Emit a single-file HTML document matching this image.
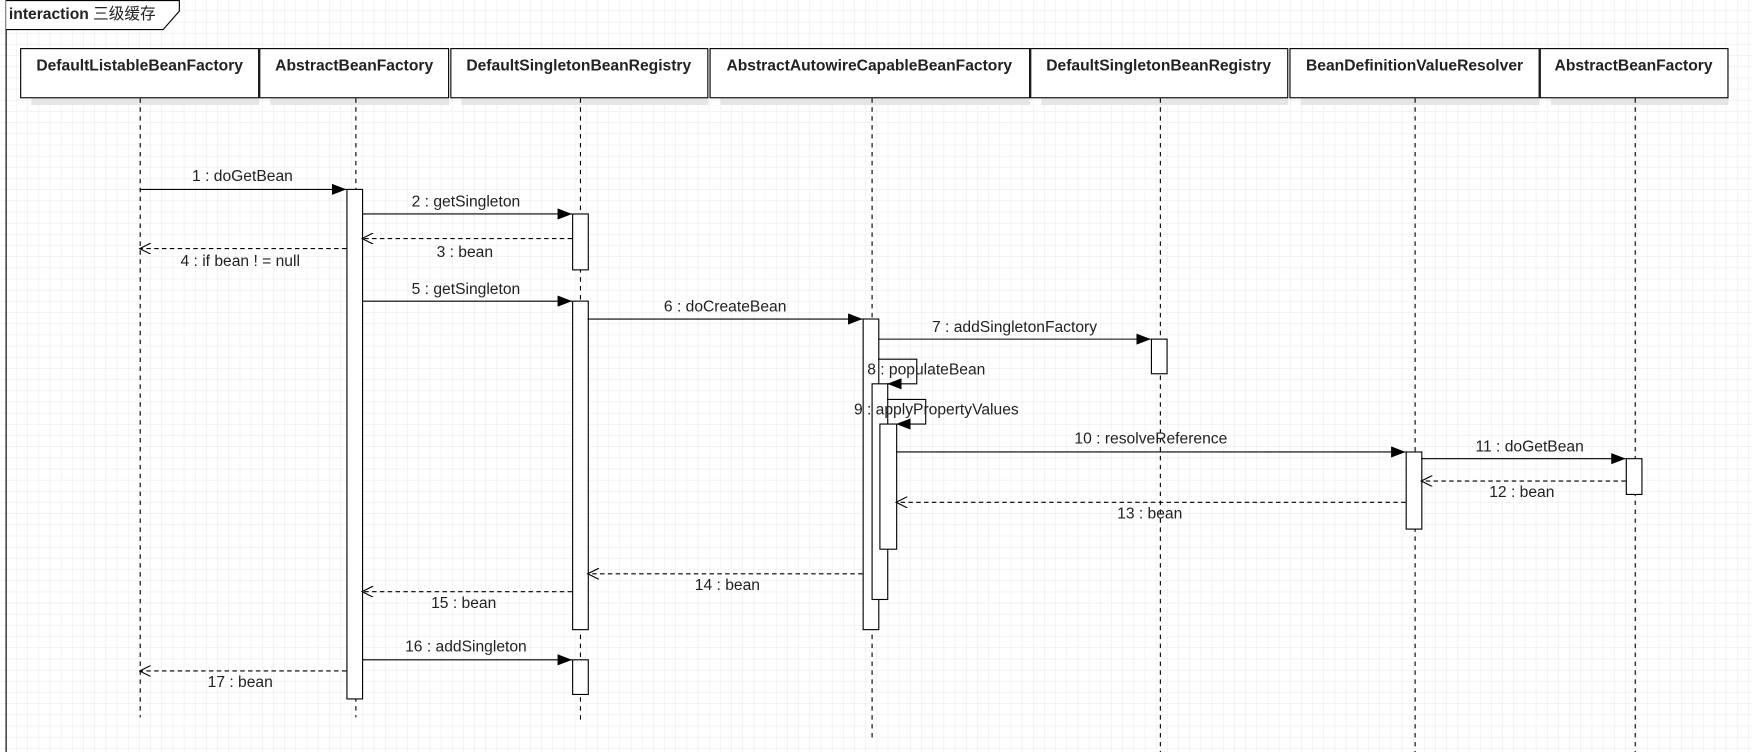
<!DOCTYPE html>
<html><head><meta charset="utf-8"><style>
html,body{margin:0;padding:0;background:#fff;}
svg{display:block;}
text{font-family:"Liberation Sans","Noto Sans CJK SC",sans-serif;font-size:14px;fill:#222;}
.h{font-weight:bold;}
</style></head><body>
<svg width="1752" height="752" viewBox="0 0 1568 673" preserveAspectRatio="none" xmlns="http://www.w3.org/2000/svg">
<defs>
<pattern id="g" width="10" height="10" patternUnits="userSpaceOnUse" x="5" y="0">
<path d="M10 0V10M0 10H10" stroke="#ebebeb" stroke-width="1" fill="none"/>
</pattern>
<marker id="f" markerWidth="14" markerHeight="10" refX="13" refY="5" orient="auto" markerUnits="userSpaceOnUse"><path d="M0 0L13 5L0 10Z" fill="#000"/></marker>
<marker id="o" markerWidth="12" markerHeight="10" refX="11" refY="5" orient="auto" markerUnits="userSpaceOnUse"><path d="M1 0L11 5L1 10" fill="none" stroke="#000"/></marker>
</defs>
<rect width="1568" height="673" fill="url(#g)"/>
<!-- frame -->
<line x1="5.5" y1="0" x2="5.5" y2="673" stroke="#000"/>
<path d="M5.5 0.5H160.5V10L146 26.5H5.5" fill="#fff" stroke="#000"/>
<text x="8" y="17"><tspan font-weight="bold">interaction</tspan> 三级缓存</text>
<!-- shadows -->
<g fill="#e6e6e6">
<rect x="28" y="88" width="204" height="6"/><rect x="242" y="88" width="160" height="6"/>
<rect x="413" y="88" width="221" height="6"/><rect x="645" y="88" width="277" height="6"/>
<rect x="932" y="88" width="221" height="6"/><rect x="1164" y="88" width="214" height="6"/>
<rect x="1388" y="88" width="159" height="6"/>
</g>
<!-- lifelines -->
<g stroke="#000" stroke-dasharray="4,4">
<line x1="125.5" y1="88" x2="125.5" y2="642"/>
<line x1="318.5" y1="88" x2="318.5" y2="642"/>
<line x1="519.5" y1="88" x2="519.5" y2="648"/>
<line x1="780.5" y1="88" x2="780.5" y2="661"/>
<line x1="1038.5" y1="88" x2="1038.5" y2="673"/>
<line x1="1266.5" y1="88" x2="1266.5" y2="673"/>
<line x1="1463.5" y1="88" x2="1463.5" y2="673"/>
</g>
<!-- headers -->
<g fill="#fff" stroke="#000">
<rect x="18.5" y="43.5" width="213" height="44"/><rect x="232.5" y="43.5" width="169" height="44"/>
<rect x="403.5" y="43.5" width="230" height="44"/><rect x="635.5" y="43.5" width="286" height="44"/>
<rect x="922.5" y="43.5" width="230" height="44"/><rect x="1154.5" y="43.5" width="223" height="44"/>
<rect x="1378.5" y="43.5" width="168" height="44"/>
</g>
<g class="h" text-anchor="middle">
<text class="h" x="125" y="63">DefaultListableBeanFactory</text>
<text class="h" x="317" y="63">AbstractBeanFactory</text>
<text class="h" x="518" y="63">DefaultSingletonBeanRegistry</text>
<text class="h" x="778" y="63">AbstractAutowireCapableBeanFactory</text>
<text class="h" x="1037" y="63">DefaultSingletonBeanRegistry</text>
<text class="h" x="1266" y="63">BeanDefinitionValueResolver</text>
<text class="h" x="1462" y="63">AbstractBeanFactory</text>
</g>
<!-- activations -->
<g fill="#fff" stroke="#000">
<rect x="310.5" y="169.5" width="14" height="456"/>
<rect x="512.5" y="191.5" width="14" height="50"/>
<rect x="512.5" y="269.5" width="14" height="294"/>
<rect x="512.5" y="590.5" width="14" height="31"/>
<rect x="772.5" y="285.5" width="14" height="278"/>
<rect x="780.5" y="343.5" width="14" height="193"/>
<rect x="787.5" y="379.5" width="15" height="112"/>
<rect x="1030.5" y="303.5" width="14" height="31"/>
<rect x="1258.5" y="404.5" width="14" height="69"/>
<rect x="1455.5" y="410.5" width="14" height="32"/>
</g>
<!-- messages -->
<g stroke="#000" fill="none">
<line x1="125" y1="169.5" x2="310" y2="169.5" marker-end="url(#f)"/>
<line x1="324" y1="191.5" x2="512" y2="191.5" marker-end="url(#f)"/>
<line x1="512" y1="213.5" x2="324" y2="213.5" stroke-dasharray="4,3" marker-end="url(#o)"/>
<line x1="310" y1="222.5" x2="125" y2="222.5" stroke-dasharray="4,3" marker-end="url(#o)"/>
<line x1="324" y1="269.5" x2="512" y2="269.5" marker-end="url(#f)"/>
<line x1="526" y1="285.5" x2="772" y2="285.5" marker-end="url(#f)"/>
<line x1="786" y1="303.5" x2="1030" y2="303.5" marker-end="url(#f)"/>
<polyline points="786,321.5 820.5,321.5 820.5,343.5 794,343.5" marker-end="url(#f)"/>
<polyline points="794,357.5 828.5,357.5 828.5,379.5 802,379.5" marker-end="url(#f)"/>
<line x1="802" y1="404.5" x2="1258" y2="404.5" marker-end="url(#f)"/>
<line x1="1272" y1="410.5" x2="1455" y2="410.5" marker-end="url(#f)"/>
<line x1="1455" y1="430.5" x2="1272" y2="430.5" stroke-dasharray="4,3" marker-end="url(#o)"/>
<line x1="1258" y1="449.5" x2="802" y2="449.5" stroke-dasharray="4,3" marker-end="url(#o)"/>
<line x1="772" y1="513.5" x2="526" y2="513.5" stroke-dasharray="4,3" marker-end="url(#o)"/>
<line x1="512" y1="529.5" x2="324" y2="529.5" stroke-dasharray="4,3" marker-end="url(#o)"/>
<line x1="324" y1="590.5" x2="512" y2="590.5" marker-end="url(#f)"/>
<line x1="310" y1="600.5" x2="125" y2="600.5" stroke-dasharray="4,3" marker-end="url(#o)"/>
</g>
<g text-anchor="middle">
<text x="217" y="162">1 : doGetBean</text>
<text x="417" y="185">2 : getSingleton</text>
<text x="416" y="230">3 : bean</text>
<text x="215" y="238">4 : if bean ! = null</text>
<text x="417" y="263">5 : getSingleton</text>
<text x="649" y="279">6 : doCreateBean</text>
<text x="908" y="297">7 : addSingletonFactory</text>
<text x="829" y="335">8 : populateBean</text>
<text x="838" y="371">9 : applyPropertyValues</text>
<text x="1030" y="397">10 : resolveReference</text>
<text x="1369" y="404">11 : doGetBean</text>
<text x="1362" y="445">12 : bean</text>
<text x="1029" y="464">13 : bean</text>
<text x="651" y="528">14 : bean</text>
<text x="415" y="544">15 : bean</text>
<text x="417" y="583">16 : addSingleton</text>
<text x="215" y="615">17 : bean</text>
</g>
</svg>
</body></html>
